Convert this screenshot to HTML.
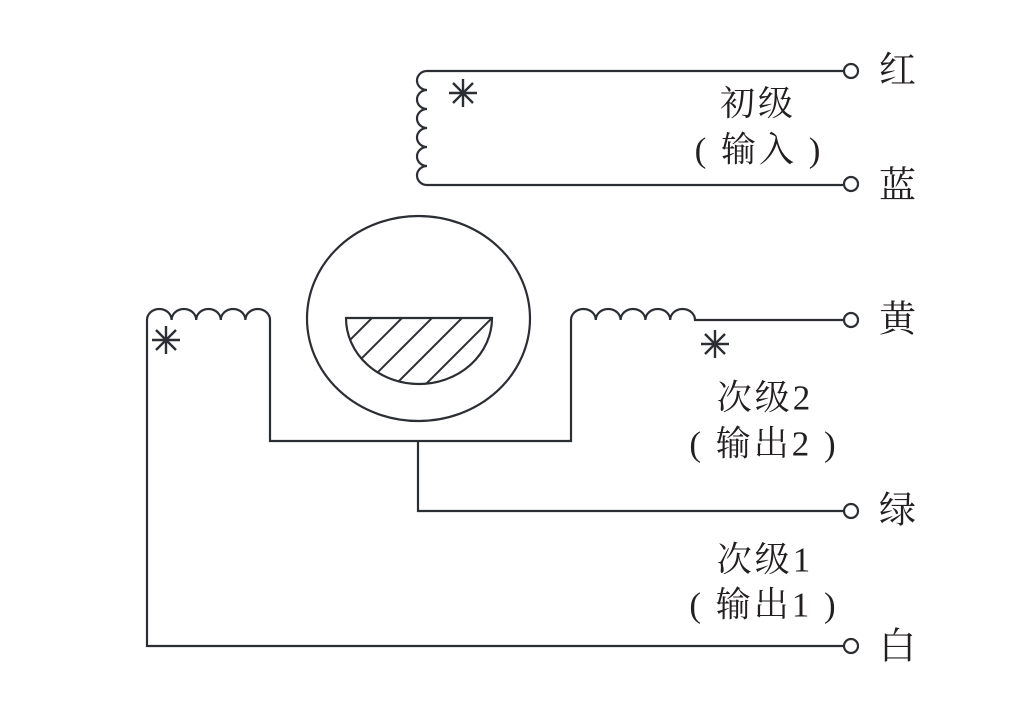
<!DOCTYPE html>
<html><head><meta charset="utf-8"><style>
html,body{margin:0;padding:0;background:#fff;}
svg{display:block;}
text{font-family:"Liberation Serif","Noto Serif CJK SC",serif;fill:#231f20;}
</style></head><body>
<svg width="1024" height="711" viewBox="0 0 1024 711" xmlns="http://www.w3.org/2000/svg">
<defs>
<clipPath id="semi"><path d="M346 318 H492 A73 66 0 0 1 346 318 Z"/></clipPath>
</defs>
<g fill="none" stroke="#2b2e33" stroke-width="2.2">
<path d="M843 71 H427 a10 9.5 0 0 0 0 19 a10 9.5 0 0 0 0 19 a10 9.5 0 0 0 0 19 a10 9.5 0 0 0 0 19 a10 9.5 0 0 0 0 19 a10 9.5 0 0 0 0 19 H843"/>
<path d="M843 646 H147 V320 a12.3 11 0 0 1 24.6 0 a12.3 11 0 0 1 24.6 0 a12.3 11 0 0 1 24.6 0 a12.3 11 0 0 1 24.6 0 a12.3 11 0 0 1 24.6 0 V441 H571 V320 a12.4 11 0 0 1 24.8 0 a12.4 11 0 0 1 24.8 0 a12.4 11 0 0 1 24.8 0 a12.4 11 0 0 1 24.8 0 a12.4 11 0 0 1 24.8 0 H843"/>
<path d="M418 441 V511 H843"/>
<ellipse cx="418.5" cy="318.5" rx="111.5" ry="102.5"/>
<path d="M346 318 H492 A73 66 0 0 1 346 318 Z"/>
<g clip-path="url(#semi)" stroke-width="2">
<line x1="330" y1="360" x2="380" y2="310"/>
<line x1="340" y1="380" x2="410" y2="310"/>
<line x1="360" y1="390" x2="440" y2="310"/>
<line x1="375" y1="405" x2="470" y2="310"/>
<line x1="395" y1="415" x2="500" y2="310"/>
<line x1="425" y1="415" x2="510" y2="330"/>
</g>
<circle cx="851" cy="71" r="7" fill="#fff"/>
<circle cx="851" cy="184" r="7" fill="#fff"/>
<circle cx="851" cy="320" r="7" fill="#fff"/>
<circle cx="851" cy="511" r="7" fill="#fff"/>
<circle cx="851" cy="646" r="7" fill="#fff"/>
<g stroke-width="2.4">
<g transform="translate(463,93)"><line x1="-14" y1="0" x2="14" y2="0"/><line x1="0" y1="-14" x2="0" y2="14"/><line x1="-10" y1="-10" x2="10" y2="10"/><line x1="-10" y1="10" x2="10" y2="-10"/></g>
<g transform="translate(166,340)"><line x1="-14" y1="0" x2="14" y2="0"/><line x1="0" y1="-14" x2="0" y2="14"/><line x1="-10" y1="-10" x2="10" y2="10"/><line x1="-10" y1="10" x2="10" y2="-10"/></g>
<g transform="translate(715,344)"><line x1="-14" y1="0" x2="14" y2="0"/><line x1="0" y1="-14" x2="0" y2="14"/><line x1="-10" y1="-10" x2="10" y2="10"/><line x1="-10" y1="10" x2="10" y2="-10"/></g>
</g>
</g>
<g font-size="37" dominant-baseline="central">
<text x="879" y="71">红</text>
<text x="879" y="186">蓝</text>
<text x="879" y="320">黄</text>
<text x="879" y="511">绿</text>
<text x="879" y="647">白</text>
</g>
<g font-size="35" dominant-baseline="central" text-anchor="middle" letter-spacing="3">
<text x="758" y="104">初级</text>
<text x="759" y="150">( 输入 )</text>
<text x="765" y="398">次级2</text>
<text x="764" y="444">( 输出2 )</text>
<text x="765" y="560">次级1</text>
<text x="764" y="605">( 输出1 )</text>
</g>
</svg>
</body></html>
